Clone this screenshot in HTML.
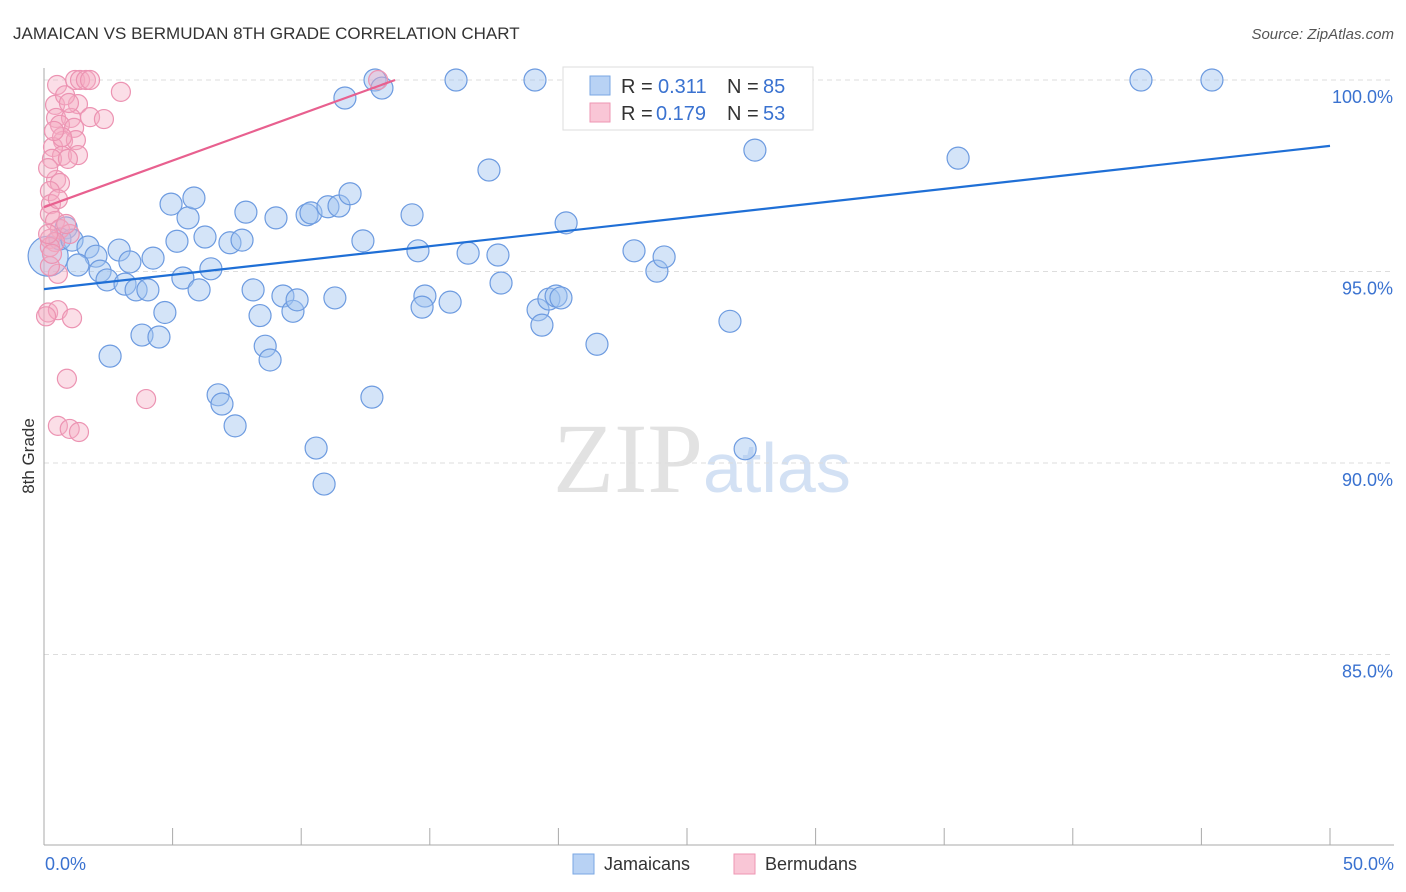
<!DOCTYPE html>
<html><head><meta charset="utf-8">
<style>
body{margin:0;background:#fff;font-family:"Liberation Sans",sans-serif;}
svg{display:block}
</style></head>
<body>
<svg id="chart" width="1406" height="892" xmlns="http://www.w3.org/2000/svg">
<text x="13" y="39" font-size="17" fill="#333" font-family="Liberation Sans">JAMAICAN VS BERMUDAN 8TH GRADE CORRELATION CHART</text>
<text x="1394" y="39" font-size="15" fill="#555" text-anchor="end" font-style="italic">Source: ZipAtlas.com</text>
<text x="553" y="492" font-size="100"><tspan fill="#e2e2e2" font-family="Liberation Serif">ZIP</tspan><tspan fill="#d3e1f4" font-family="Liberation Sans" font-size="70">atlas</tspan></text>
<g id="grid"></g>
<g id="axes"></g>
<g id="marks"></g>
<g>
<rect x="563" y="67" width="250" height="63" fill="#fff" stroke="#ddd"/>
<rect x="590" y="76" width="20" height="19" fill="#b8d2f4" stroke="#7aa7e3"/>
<text x="621" y="93" font-size="20" fill="#333">R = </text><text x="658" y="93" font-size="20" fill="#3a72d0">0.311</text>
<text x="727" y="93" font-size="20" fill="#333">N = </text><text x="763" y="93" font-size="20" fill="#3a72d0">85</text>
<rect x="590" y="103" width="20" height="19" fill="#f9c6d6" stroke="#ee96b3"/>
<text x="621" y="120" font-size="20" fill="#333">R = </text><text x="656" y="120" font-size="20" fill="#3a72d0">0.179</text>
<text x="727" y="120" font-size="20" fill="#333">N = </text><text x="763" y="120" font-size="20" fill="#3a72d0">53</text>
</g>
<g>
<rect x="573" y="854" width="21" height="20" fill="#b8d2f4" stroke="#7aa7e3"/>
<text x="604" y="870" font-size="18" fill="#333">Jamaicans</text>
<rect x="734" y="854" width="21" height="20" fill="#f9c6d6" stroke="#ee96b3"/>
<text x="765" y="870" font-size="18" fill="#333">Bermudans</text>
</g>
<text transform="translate(34,456) rotate(-90)" font-size="17" fill="#333" text-anchor="middle">8th Grade</text>
</svg>
<script>
const xTickLabels=["0.0%","50.0%"];
const yTicks=[100,95,90,85];
const yTickLabels=["100.0%","95.0%","90.0%","85.0%"];
const blueX=[0.16,0.86,0.62,1.09,1.71,2.02,1.32,2.18,2.45,2.92,3.15,3.34,3.58,4.04,4.24,4.7,3.81,4.47,2.57,4.94,5.6,5.83,5.17,5.4,6.26,6.49,6.03,7.23,7.7,7.85,6.77,6.92,7.43,8.13,8.4,8.6,8.79,9.02,9.29,9.68,9.84,10.23,10.38,10.58,10.89,11.04,11.47,11.31,11.9,11.7,12.4,12.75,12.87,13.14,14.31,14.54,14.81,14.7,15.79,16.02,16.49,17.3,17.65,17.77,19.09,19.21,19.36,19.63,19.91,20.1,20.3,21.5,22.94,23.83,24.11,26.56,26.67,27.26,27.64,28.62,35.54,42.65,45.41];
const blueY=[95.4,96.14,95.85,95.82,95.64,95.4,95.17,95.01,94.78,95.56,94.67,95.25,94.52,94.52,95.35,93.93,93.34,93.29,92.79,96.76,96.4,96.92,95.79,94.83,95.9,95.07,94.52,95.75,95.82,96.55,91.78,91.54,90.97,94.52,93.85,93.05,92.69,96.4,94.36,93.96,94.26,96.48,96.53,90.39,89.45,96.69,96.71,94.31,97.03,99.53,95.8,91.72,100,99.79,96.48,95.54,94.36,94.07,94.2,100,95.48,97.65,95.43,94.7,100,94.0,93.6,94.28,94.36,94.31,96.27,93.1,95.54,95.01,95.38,100,93.7,90.37,98.17,100,97.96,100,100];
const pinkX=[0.51,1.21,1.4,1.63,1.79,2.99,0.43,1.32,0.47,1.05,1.79,2.33,0.62,1.17,0.74,1.24,0.35,0.7,1.32,0.31,0.93,0.47,0.62,0.23,0.27,0.23,0.43,0.62,1.0,0.23,0.43,0.23,0.54,0.16,0.54,1.09,0.89,3.97,0.54,1.0,1.36,12.99,0.23,0.08,0.16,0.31,0.82,0.97,0.16,0.54,0.7,0.86,0.39];
const pinkY=[99.87,100,100,100,100,99.69,99.35,99.37,99.01,99.01,99.03,98.98,98.83,98.75,98.41,98.43,98.25,98.02,98.04,97.94,97.94,97.39,97.31,97.1,96.76,96.5,96.32,96.11,95.98,95.85,95.77,95.64,94.94,93.93,93.99,93.78,92.2,91.67,90.97,90.89,90.81,100,95.14,93.83,95.98,95.46,99.6,99.4,97.7,96.89,98.51,96.24,98.67];
const blueTrend=[94.54,98.28];
const pinkTrend=[96.68,100,13.65];

const NS="http://www.w3.org/2000/svg";
const X0=44,X1=1330,Y100=80,PXPER=38.3;
function sx(v){return X0+(X1-X0)*v/50;}
function sy(v){return Y100+(100-v)*PXPER;}
function mk(tag,attrs,parent){const e=document.createElementNS(NS,tag);for(const k in attrs)e.setAttribute(k,attrs[k]);parent.appendChild(e);return e;}
const grid=document.getElementById('grid'),axes=document.getElementById('axes'),marks=document.getElementById('marks');
yTicks.forEach((t,i)=>{
  const l=mk('line',{x1:X0,x2:1394,y1:sy(t),y2:sy(t),stroke:'#ddd','stroke-dasharray':'5,4'},grid);
  
  
  const tx=mk('text',{x:1393,y:sy(t)+23,'font-size':18,fill:'#3a72d0','text-anchor':'end'},axes);
  tx.textContent=yTickLabels[i];
  
  
});
const ya=mk('line',{x1:X0,x2:X0,y1:68,y2:845,stroke:'#aaa'},axes);


const xa=mk('line',{x1:X0,x2:1394,y1:845,y2:845,stroke:'#aaa'},axes);


for(let i=0;i<=10;i++){
  const tk=mk('line',{x1:sx(i*5),x2:sx(i*5),y1:828,y2:845,stroke:'#aaa'},axes);
  
  
}
const xl0=mk('text',{x:45,y:870,'font-size':18,fill:'#3a72d0'},axes);xl0.textContent=xTickLabels[0];


const xl1=mk('text',{x:1394,y:870,'font-size':18,fill:'#3a72d0','text-anchor':'end'},axes);xl1.textContent=xTickLabels[1];


blueX.forEach((v,i)=>{
  const c=mk('circle',{cx:sx(v),cy:sy(blueY[i]),r:i===0?20:11,fill:'rgba(160,196,240,0.45)',stroke:'#6d9be0','stroke-width':1.2},marks);
  
  
});
pinkX.forEach((v,i)=>{
  const c=mk('circle',{cx:sx(v),cy:sy(pinkY[i]),r:9.5,fill:'rgba(246,172,196,0.4)',stroke:'#ec93b2','stroke-width':1.2},marks);
  
  
});
const bl=mk('line',{x1:sx(0),y1:sy(blueTrend[0]),x2:sx(50),y2:sy(blueTrend[1]),stroke:'#1f6fd6','stroke-width':2.2},marks);


const pl=mk('line',{x1:sx(0),y1:sy(pinkTrend[0]),x2:sx(pinkTrend[2]),y2:sy(pinkTrend[1]),stroke:'#e8608f','stroke-width':2.2},marks);


</script>
</body></html>
